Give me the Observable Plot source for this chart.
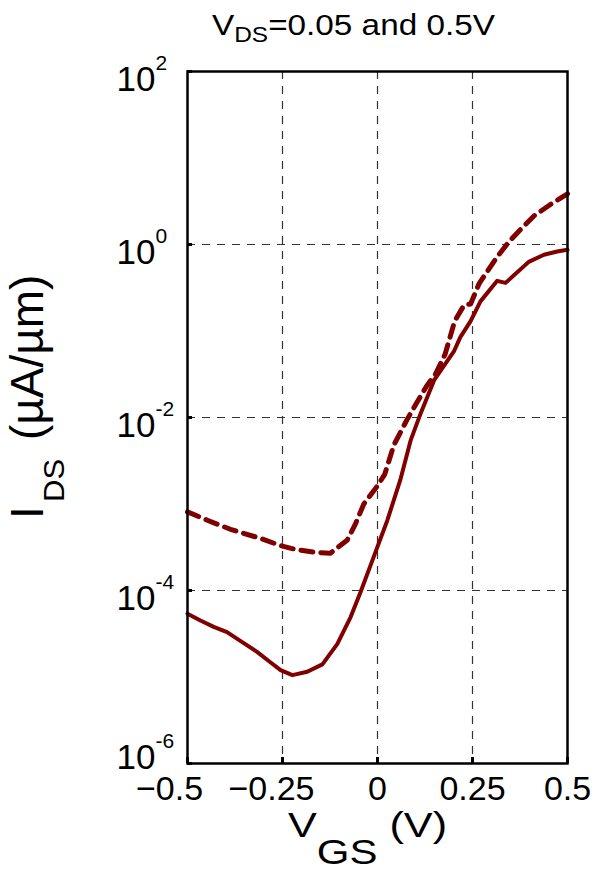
<!DOCTYPE html>
<html><head><meta charset="utf-8">
<script src="https://cdn.jsdelivr.net/npm/d3@7"></script>
<script src="https://cdn.jsdelivr.net/npm/@observablehq/plot@0.6"></script>
<style>
body{margin:0;background:#fff}
svg{font-family:"Liberation Sans",Arial,Helvetica,sans-serif}
</style>
</head><body><div id="chart"></div>
<script>
// V_DS = 0.05 V (solid)
const vgsLow = [-0.5,-0.466,-0.431,-0.396,-0.36,-0.317,-0.282,-0.255,-0.224,-0.185,-0.145,-0.106,-0.071,-0.045,-0.01,0.026,0.06,0.087,0.113,0.149,0.201,0.218,0.245,0.271,0.315,0.337,0.359,0.398,0.438,0.473,0.5];
const idsLow = [5.4e-5,4.5e-5,3.8e-5,3.3e-5,2.6e-5,1.95e-5,1.48e-5,1.2e-5,1.05e-5,1.15e-5,1.4e-5,2.4e-5,4.9e-5,9.5e-5,2.45e-4,6.5e-4,1.9e-3,5.4e-3,1.1e-2,2.7e-2,5.8e-2,8.5e-2,0.13,0.22,0.38,0.36,0.44,0.63,0.76,0.83,0.87];
// V_DS = 0.5 V (dashed)
const vgsHigh = [-0.5,-0.448,-0.387,-0.308,-0.255,-0.211,-0.159,-0.124,-0.08,-0.058,-0.036,-0.001,0.019,0.043,0.078,0.104,0.129,0.153,0.178,0.203,0.228,0.245,0.267,0.293,0.315,0.346,0.38,0.413,0.455,0.5];
const idsHigh = [8.1e-4,6.5e-4,5.1e-4,4.0e-4,3.3e-4,2.95e-4,2.75e-4,2.7e-4,3.8e-4,5.9e-4,1.0e-3,1.6e-3,2.2e-3,4.8e-3,9.5e-3,1.5e-2,2.3e-2,3.2e-2,5.4e-2,0.13,0.20,0.205,0.35,0.52,0.72,1.08,1.55,2.16,2.9,3.85];

const xTicks = [-0.5,-0.25,0,0.25,0.5];
const xTickLabels = ["\u22120.5","\u22120.25","0","0.25","0.5"];
const xGrid = [-0.25,0,0.25];
const yTicks = [1e-6,1e-4,1e-2,1,1e2];
const yTickExps = ["-6","-4","-2","0","2"];
const yGrid = [1e-4,1e-2,1];

const lowData = vgsLow.map((v,i)=>({v, ids: idsLow[i]}));
const highData = vgsHigh.map((v,i)=>({v, ids: idsHigh[i]}));
const lineColor = "#800000";
const xFmt = d => xTickLabels[xTicks.indexOf(d)];

const plot = Plot.plot({
  width: 599, height: 872,
  marginLeft: 187, marginRight: 32, marginTop: 71, marginBottom: 109,
  style: {background: "white", fontFamily: '"Liberation Sans",Arial,sans-serif', color: "black"},
  x: {domain: [-0.5, 0.5]},
  y: {type: "log", domain: [1e-6, 1e2]},
  marks: [
    Plot.gridX(xGrid, {stroke: "#333", strokeOpacity: 1, strokeWidth: 1.2, strokeDasharray: "8,7"}),
    Plot.gridY(yGrid, {stroke: "#333", strokeOpacity: 1, strokeWidth: 1.2, strokeDasharray: "8,7"}),
    Plot.line(lowData, {x: "v", y: "ids", stroke: lineColor, strokeWidth: 4}),
    Plot.line(highData, {x: "v", y: "ids", stroke: lineColor, strokeWidth: 5, strokeDasharray: "12,8"}),
    Plot.tickY(yTicks, {y: d => d, stroke: "black", strokeWidth: 3, insetRight: 375}),
    Plot.tickX(xTicks, {x: d => d, stroke: "black", strokeWidth: 3, insetTop: 686}),
    Plot.frame({stroke: "black", strokeWidth: 2.5}),
    Plot.axisX([xTicks[0]], {tickSize: 0, tickPadding: 12, fontSize: 34, tickFormat: xFmt, label: null, dx: -18}),
    Plot.axisX([xTicks[1]], {tickSize: 0, tickPadding: 12, fontSize: 34, tickFormat: xFmt, label: null, dx: -11}),
    Plot.axisX(xTicks.slice(2), {tickSize: 0, tickPadding: 12, fontSize: 34, tickFormat: xFmt, label: null}),
    Plot.axisY(yTicks, {tickSize: 0, tickPadding: 71, fontSize: 35, textAnchor: "start", dy: 8,
      tickFormat: d => "10^" + yTickExps[yTicks.indexOf(d)], label: null})
  ]
});
document.getElementById("chart").appendChild(plot);

const svg = d3.select(plot);
// superscripts on y tick labels
svg.selectAll('g[aria-label="y-axis tick label"] text').each(function() {
  const t = d3.select(this);
  const s = t.text();
  const [base, exp] = s.split("^");
  t.text(null);
  t.append("tspan").text(base);
  t.append("tspan").attr("font-size", 21).attr("dy", -21).text(exp);
  if (exp === "-6") t.attr("transform", (t.attr("transform") || "") + " translate(0,-14)");
});

const ff = '"Liberation Sans",Arial,sans-serif';
const addText = (tr, size) => svg.append("text").attr("transform", tr)
  .attr("font-family", ff).attr("font-size", size).attr("fill", "black").attr("text-anchor", "start");
// title
const title = addText("translate(212,35) scale(1.11,1)", 30);
title.append("tspan").text("V");
title.append("tspan").attr("font-size", 22).attr("dy", 7).text("DS");
title.append("tspan").attr("dy", -7).text("=0.05 and 0.5V");

// x label
const xl = addText("translate(288,837) scale(1.2,1)", 36);
xl.append("tspan").text("V");
xl.append("tspan").attr("dy", 27).attr("font-size", 35).text("GS");
xl.append("tspan").attr("dy", -27).text(" (V)");

// y label
addText("translate(43,519) rotate(-90)", 46).text("I");
addText("translate(64,502) rotate(-90) scale(1.07,1)", 29).text("DS");
addText("translate(43,440) rotate(-90)", 46).text("(\u00b5A/\u00b5m)");
</script>
</body></html>
